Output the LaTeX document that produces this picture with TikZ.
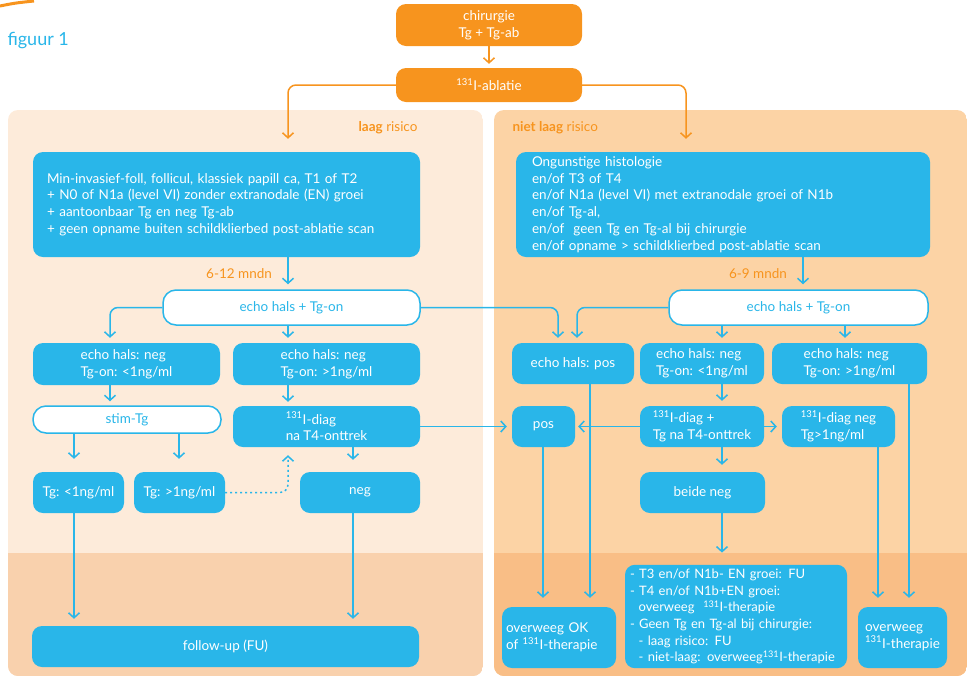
\documentclass[tikz,border=0pt]{standalone}
\usepackage{fontspec}
\setmainfont{Lato}
\usetikzlibrary{arrows.meta, positioning, calc}

\definecolor{oranje}{RGB}{247,148,30}
\definecolor{blauw}{RGB}{41,182,233}
\definecolor{laagbg}{RGB}{253,235,218}
\definecolor{laagbgdark}{RGB}{249,209,173}
\definecolor{hoogbg}{RGB}{252,211,165}
\definecolor{hoogbgdark}{RGB}{249,190,134}

\newcommand{\jodium}{\textsuperscript{131}I}

\tikzset{
    orangebox/.style={rectangle, rounded corners=10pt, fill=oranje, text=white, align=center, inner sep=2pt},
    bluebox/.style={rectangle, rounded corners=10pt, fill=blauw, text=white, align=left, inner sep=4pt},
    whitebox/.style={rectangle, rounded corners=13pt, fill=white, draw=blauw, line width=1.5pt, text=blauw, align=center},
    risktext/.style={text=oranje},
    timetext/.style={text=oranje},
    arrow/.style={draw=blauw, line width=1.5pt, -{Straight Barb[length=5pt,width=11pt]}, shorten >=5pt},
    orarrow/.style={draw=oranje, line width=1.5pt, -{Straight Barb[length=5pt,width=11pt]}, shorten >=4pt}
}

\begin{document}
\begin{tikzpicture}[x=1pt, y=-1pt, font=\fontsize{13.5}{16.7}\selectfont]
\useasboundingbox (0,0) rectangle (968,678);

% Panels
\begin{scope}
\clip[rounded corners=10pt] (8,110) rectangle (483,676);
\fill[laagbg] (8,110) rectangle (483,676);
\fill[laagbgdark] (8,553) rectangle (483,676);
\end{scope}
\begin{scope}
\clip[rounded corners=10pt] (494,110) rectangle (967,676);
\fill[hoogbg] (494,110) rectangle (967,676);
\fill[hoogbgdark] (494,553) rectangle (967,676);
\end{scope}
\draw[oranje, line width=3pt] (0,6) .. controls (15,3) .. (34,1);

% Columns for the connectors
\coordinate (kolA) at (110,0);
\coordinate (kolB) at (288,0);
\coordinate (kolC) at (74,0);
\coordinate (kolD) at (179,0);
\coordinate (kolE) at (353,0);
\coordinate (kolF) at (558,0);
\coordinate (kolG) at (577,0);
\coordinate (kolH) at (590,0);
\coordinate (kolI) at (543,0);
\coordinate (kolJ) at (722,0);
\coordinate (kolK) at (845,0);
\coordinate (kolL) at (878,0);
\coordinate (kolM) at (909,0);
\coordinate (kolR) at (803,0);
\coordinate (kolO) at (686,0);

% Nodes
\node (figuur) [anchor=west, text=blauw, font=\fontsize{18}{20}\selectfont] at (4,41) {figuur 1};
\node (chir) [orangebox, minimum width=186pt, minimum height=42pt] at (489,25) {chirurgie\\Tg + Tg-ab};
\node (abl) [orangebox, minimum width=186pt, minimum height=34pt] at (489,85) {\jodium-ablatie};
\node (laag) [risktext, anchor=east] at (421,128) {\textbf{laag} risico};
\node (nietlaag) [risktext, anchor=west] at (509,128) {\textbf{niet laag} risico};

\node (bigL) [bluebox, inner xsep=14pt, text width=359pt, minimum height=105pt] at (226.5,204.5) {Min-invasief-foll, follicul, klassiek papill ca, T1 of T2\\+ N0 of N1a (level VI) zonder extranodale (EN) groei\\+ aantoonbaar Tg en neg Tg-ab\\+ geen opname buiten schildklierbed post-ablatie scan\\[4pt]};
\node (bigR) [bluebox, inner xsep=16pt, text width=382pt, minimum height=105pt] at (723,204.5) {Ongunstige histologie\\en/of T3 of T4\\en/of N1a (level VI) met extranodale groei of N1b\\en/of Tg-al,\\en/of\ \ geen Tg en Tg-al bij chirurgie\\en/of opname > schildklierbed post-ablatie scan};

\node (echoL) [whitebox, minimum width=257pt, minimum height=35pt] at (291.5,307.5) {echo hals + Tg-on};
\node (echoR) [whitebox, minimum width=259pt, minimum height=35pt] at (798.5,307.5) {echo hals + Tg-on};

\node (neg1) [bluebox, minimum width=187pt, minimum height=42pt] at (126.5,364) {echo hals: neg\\Tg-on: <1ng/ml};
\node (neg2) [bluebox, minimum width=187pt, minimum height=42pt] at (326.5,364) {echo hals: neg\\Tg-on: >1ng/ml};
\node (stim) [whitebox, minimum width=188pt, minimum height=27pt] at (127,419.5) {stim-Tg};
\node (diagL) [bluebox, minimum width=187pt, minimum height=41pt] at (326.5,426.5) {\jodium-diag\\na T4-onttrek};
\node (tg1) [bluebox, minimum width=91pt, minimum height=41pt] at (78.5,492.5) {Tg: <1ng/ml};
\node (tg2) [bluebox, minimum width=91pt, minimum height=41pt] at (179.5,492.5) {Tg: >1ng/ml};
\node (negL) [bluebox, minimum width=120pt, minimum height=41pt] at (360,492.5) {neg};
\node (fu) [bluebox, minimum width=387pt, minimum height=41pt] at (225.5,646.5) {follow-up (FU)};

\node (posE) [bluebox, minimum width=122pt, minimum height=41pt] at (573,363.5) {echo hals: pos};
\node (neg3) [bluebox, minimum width=124pt, minimum height=41pt] at (702,363.5) {echo hals: neg\\Tg-on: <1ng/ml};
\node (neg4) [bluebox, minimum width=155pt, minimum height=41pt] at (849.5,363.5) {echo hals: neg\\Tg-on: >1ng/ml};
\node (pos) [bluebox, minimum width=63pt, minimum height=41pt] at (543.5,426.5) {pos};
\node (diagR) [bluebox, minimum width=124pt, minimum height=41pt] at (702,426.5) {\jodium-diag +\\Tg na T4-onttrek};
\node (diagN) [bluebox, minimum width=113pt, minimum height=41pt] at (838.5,426.5) {\jodium-diag neg\\Tg>1ng/ml};
\node (beide) [bluebox, minimum width=125pt, minimum height=41pt] at (702.5,492.5) {beide neg};
\node (ovOK) [bluebox, inner xsep=4pt, text width=106pt, minimum height=61pt] at (559,637.5) {overweeg OK\\of \jodium-therapie};
\node (lijst) [bluebox, inner xsep=5pt, text width=212pt, minimum height=103pt, font=\fontsize{13}{16.7}\selectfont] at (736,616.5) {- T3 en/of N1b- EN groei: FU\\- T4 en/of N1b+EN groei:\\\ \ overweeg\ \ \jodium-therapie\\- Geen Tg en Tg-al bij chirurgie:\\\ \ - laag risico: FU\\\ \ - niet-laag: \mbox{overweeg\jodium-therapie}};
\node (ovT) [bluebox, minimum width=89pt, minimum height=61pt] at (902.5,637.5) {overweeg\\\jodium-therapie};

% Arrows
\draw [orarrow] (chir) -- (abl);
\draw [orarrow, rounded corners=8pt, shorten >=13pt] (abl.west) -| (bigL.north -| kolB);
\draw [orarrow, rounded corners=8pt, shorten >=13pt] (abl.east) -| (bigR.north -| kolO);
\draw [arrow] (bigL.south -| kolB) -- node[timetext, left=12pt] {6-12 mndn} (echoL.north -| kolB);
\draw [arrow] (bigR.south -| kolR) -- node[timetext, left=12pt] {6-9 mndn} (echoR.north -| kolR);

\draw [arrow, rounded corners=8pt] (echoL.west) -| (neg1.north -| kolA);
\draw [arrow] (echoL.south -| kolB) -- (neg2.north -| kolB);
\draw [arrow, rounded corners=8pt] (echoL.east) -| (posE.north -| kolF);
\draw [arrow, rounded corners=8pt] (echoR.west) -| (posE.north -| kolG);
\draw [arrow] (echoR.south -| kolJ) -- (neg3.north -| kolJ);
\draw [arrow] (echoR.south -| kolK) -- (neg4.north -| kolK);

\draw [arrow, shorten >=4pt] (neg1.south -| kolA) -- (stim.north -| kolA);
\draw [arrow, shorten >=4pt] (neg2.south -| kolB) -- (diagL.north -| kolB);
\draw [arrow, shorten >=13pt] (stim.south -| kolC) -- (tg1.north -| kolC);
\draw [arrow, shorten >=13pt] (stim.south -| kolD) -- (tg2.north -| kolD);
\draw [arrow, shorten >=12pt] (diagL.south -| kolE) -- (negL.north -| kolE);
\draw [arrow, dash pattern=on 2pt off 3pt, rounded corners=8pt, shorten >=8pt] (tg2.east) -| (diagL.south -| kolB);
\draw [arrow, shorten >=7pt] (tg1.south -| kolC) -- (fu.north -| kolC);
\draw [arrow, shorten >=7pt] (negL.south -| kolE) -- (fu.north -| kolE);
\draw [arrow] (diagL.east) -- (pos.west);

\draw [arrow, shorten >=9pt] (posE.south -| kolH) -- (ovOK.north -| kolH);
\draw [arrow, shorten >=3pt] (diagR.west) -- (pos.east);
\draw [arrow] (diagR.east) -- (diagN.west);
\draw [arrow] (neg3.south -| kolJ) -- (diagR.north -| kolJ);
\draw [arrow, shorten >=7pt] (diagR.south -| kolJ) -- (beide.north -| kolJ);
\draw [arrow, shorten >=12pt] (beide.south -| kolJ) -- (lijst.north -| kolJ);
\draw [arrow, shorten >=9pt] (pos.south -| kolI) -- (ovOK.north -| kolI);
\draw [arrow, shorten >=9pt] (diagN.south -| kolL) -- (ovT.north -| kolL);
\draw [arrow, shorten >=9pt] (neg4.south -| kolM) -- (ovT.north -| kolM);

\end{tikzpicture}
\end{document}
